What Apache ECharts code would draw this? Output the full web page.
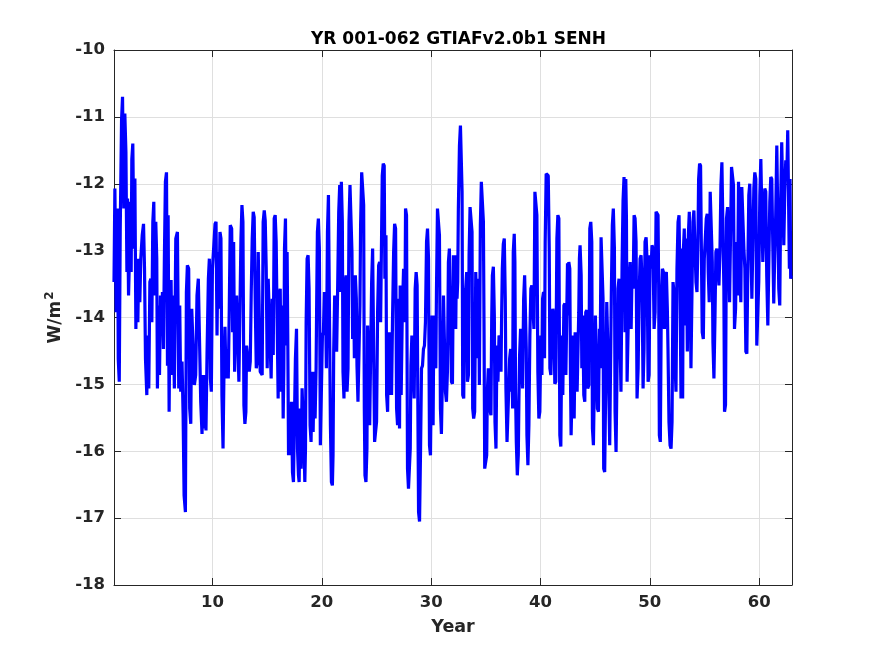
<!DOCTYPE html>
<html>
<head>
<meta charset="utf-8">
<script src="https://cdn.jsdelivr.net/npm/echarts@6/dist/echarts.min.js"></script>
<style>
  html, body { margin: 0; padding: 0; background: #fff; }
  #main { width: 875px; height: 656px; }
</style>
</head>
<body>
<div id="main"></div>
<script>
// SENH time series (turning points)
var years = [
  1.00,1.08,1.20,1.33,1.39,1.48,1.57,1.69,1.78,1.90,1.99,2.09,2.18,2.24,2.33,2.42,2.48,2.57,2.63,2.72,2.82,2.91,3.00,3.09,3.18,3.27,3.36,3.45,3.58,3.70,3.79,3.88,4.00,4.09,4.18,4.28,4.37,4.46,4.55,4.64,4.73,4.82,4.91,4.97,5.07,5.16,5.25,5.34,5.43,5.52,5.61,5.70,5.80,5.89,5.95,6.04,6.13,
  6.22,6.31,6.40,6.52,6.65,6.80,6.92,7.01,7.10,7.22,7.32,7.41,7.53,7.62,7.71,7.83,7.92,8.02,8.11,8.23,8.35,8.47,8.59,8.71,8.84,8.93,9.05,9.14,9.23,9.32,9.41,9.51,9.63,9.72,9.81,9.90,10.00,10.11,10.24,10.33,10.42,10.51,10.60,10.69,10.78,10.87,10.97,11.06,11.15,11.24,11.33,
  11.45,11.54,11.63,11.76,11.85,11.94,12.03,12.12,12.21,12.33,12.42,12.52,12.61,12.70,12.79,12.88,12.97,13.06,13.12,13.25,13.37,13.46,13.55,13.64,13.73,13.82,13.91,14.01,14.10,14.19,14.28,14.37,14.46,14.55,14.64,14.74,14.83,14.92,15.01,15.10,15.19,15.28,15.37,15.47,15.56,15.65,15.74,15.83,15.92,16.01,16.10,16.20,16.29,16.38,16.47,16.53,
  16.59,16.68,16.77,16.83,16.89,16.96,17.05,17.14,17.23,17.32,17.41,17.50,17.59,17.69,17.78,17.87,17.93,18.02,18.11,18.20,18.29,18.38,18.45,18.51,18.57,18.66,18.75,18.84,18.93,19.02,19.11,19.21,19.30,19.39,19.48,19.54,19.60,19.69,19.78,19.87,19.96,20.06,20.15,20.24,20.33,20.42,20.52,20.61,20.70,20.79,20.88,20.97,21.03,21.09,21.18,21.27,21.36,21.46,21.55,21.64,21.73,
  21.79,21.88,21.94,22.03,22.12,22.22,22.31,22.40,22.49,22.58,22.67,22.76,22.82,22.92,22.98,23.07,23.16,23.22,23.31,23.40,23.49,23.55,23.65,23.74,23.83,23.89,23.95,24.04,24.13,24.19,24.28,24.38,24.47,24.56,24.65,24.74,24.83,24.92,25.01,25.11,25.20,25.29,25.38,25.47,25.53,25.62,25.71,25.77,25.87,25.93,26.02,26.11,26.20,26.29,26.38,26.47,26.57,26.66,26.75,26.84,26.93,
  27.02,27.11,27.17,27.26,27.36,27.48,27.60,27.66,27.75,27.84,27.93,28.02,28.09,28.15,28.24,28.36,28.45,28.54,28.63,28.72,28.78,28.85,28.94,29.03,29.12,29.21,29.30,29.39,29.48,29.58,29.67,29.76,29.85,29.94,30.03,30.09,30.18,30.25,30.34,30.43,30.49,30.58,30.67,30.76,30.85,30.94,31.04,31.13,31.22,31.31,31.40,31.49,31.58,31.67,31.77,31.86,31.95,32.04,32.13,
  32.19,32.25,32.31,32.37,32.43,32.49,32.59,32.68,32.77,32.83,32.89,32.98,33.07,33.16,33.25,33.32,33.41,33.47,33.56,33.65,33.74,33.80,33.89,33.98,34.08,34.17,34.26,34.35,34.41,34.50,34.59,34.68,34.78,34.84,34.90,34.99,35.08,35.14,35.23,35.32,35.41,35.47,35.54,35.60,35.69,35.78,35.84,35.93,36.02,36.11,36.21,36.30,36.39,36.45,36.51,36.60,36.69,36.78,36.84,36.94,37.03,37.09,37.18,37.27,37.33,
  37.39,37.45,37.51,37.60,37.66,37.72,37.79,37.88,37.97,38.03,38.09,38.18,38.27,38.36,38.46,38.55,38.64,38.70,38.76,38.85,38.94,39.03,39.12,39.21,39.31,39.40,39.49,39.58,39.67,39.76,39.85,39.94,40.04,40.13,40.19,40.28,40.37,40.43,40.52,40.61,40.71,40.80,40.86,40.95,41.04,41.13,41.22,41.31,41.40,41.50,41.59,41.68,41.77,41.86,41.95,42.04,42.14,42.23,42.32,42.41,42.47,42.53,
  42.59,42.68,42.74,42.80,42.89,42.99,43.08,43.17,43.26,43.35,43.44,43.50,43.56,43.62,43.72,43.78,43.87,43.96,44.05,44.14,44.23,44.32,44.42,44.51,44.60,44.69,44.75,44.84,44.93,45.02,45.11,45.21,45.30,45.39,45.45,45.54,45.63,45.72,45.78,45.87,45.97,46.06,46.15,46.24,46.33,46.42,46.48,46.57,46.66,46.76,46.82,46.91,47.00,47.09,47.18,47.27,47.36,47.46,47.55,47.64,47.73,
  47.80,47.86,47.92,48.01,48.10,48.20,48.29,48.38,48.47,48.56,48.65,48.74,48.83,48.93,49.02,49.11,49.20,49.29,49.38,49.47,49.56,49.66,49.75,49.84,49.93,50.02,50.11,50.20,50.29,50.39,50.48,50.57,50.66,50.75,50.81,50.87,50.96,51.05,51.15,51.24,51.33,51.42,51.51,51.60,51.66,51.75,51.85,51.94,52.03,52.12,52.21,52.30,52.39,52.48,52.58,52.67,52.76,52.85,52.94,
  53.00,53.06,53.15,53.24,53.33,53.43,53.52,53.61,53.70,53.76,53.85,53.94,54.03,54.13,54.22,54.31,54.40,54.46,54.55,54.64,54.73,54.79,54.89,54.98,55.07,55.16,55.25,55.34,55.43,55.52,55.62,55.71,55.77,55.86,55.95,56.04,56.13,56.22,56.32,56.41,56.50,56.59,56.68,56.77,56.83,56.92,57.01,57.11,57.20,57.29,57.38,57.47,57.56,57.65,57.74,57.84,57.93,58.02,58.11,
  58.20,58.26,58.32,58.41,58.50,58.60,58.69,58.78,58.87,58.96,59.05,59.14,59.23,59.33,59.42,59.51,59.60,59.69,59.78,59.87,59.96,60.06,60.15,60.24,60.33,60.42,60.51,60.60,60.69,60.79,60.88,60.97,61.06,61.15,61.24,61.33,61.42,61.51,61.61,61.70,61.79,61.88,61.97,62.06,62.15,62.25,62.34,62.43,62.52,62.61,62.70,62.76,62.82,62.88,62.94
];

var senh = [
  -13.47,-12.07,-13.92,-12.37,-14.62,-14.96,-12.67,-11.05,-10.70,-12.37,-10.95,-11.53,-13.32,-12.22,-13.67,-13.07,-12.27,-13.32,-11.63,-11.40,-12.97,-11.92,-14.17,-13.12,-14.07,-13.12,-13.77,-13.12,-12.77,-12.60,-13.27,-14.62,-15.16,-14.27,-15.06,-13.47,-13.42,-14.07,-12.57,-12.27,-13.67,-12.57,-13.12,-15.06,-13.82,-14.86,-13.67,-14.22,-13.62,-14.47,-13.07,-11.97,-11.83,-14.72,-12.47,-15.41,-13.57,
  -13.44,-14.86,-13.67,-15.06,-12.82,-12.72,-15.06,-13.82,-15.11,-14.66,-15.46,-16.66,-16.91,-13.62,-13.22,-13.27,-15.36,-15.59,-13.87,-13.87,-15.01,-14.86,-13.67,-13.42,-13.42,-15.26,-15.74,-14.86,-15.66,-14.86,-15.69,-14.51,-13.42,-13.12,-14.91,-15.11,-13.27,-12.97,-12.60,-12.57,-14.27,-13.02,-13.87,-12.72,-12.82,-15.16,-15.96,-14.76,-14.14,-14.91,-14.47,
  -14.91,-13.87,-12.62,-12.67,-14.22,-12.87,-14.81,-13.97,-13.67,-13.67,-14.96,-14.96,-12.82,-12.32,-12.57,-15.31,-15.59,-15.41,-14.42,-14.42,-14.81,-14.66,-13.62,-12.82,-12.42,-12.50,-13.72,-14.76,-14.66,-13.02,-13.02,-14.81,-14.81,-14.86,-12.57,-12.40,-12.55,-13.27,-14.76,-13.42,-13.42,-13.42,-14.91,-13.72,-14.56,-12.52,-12.47,-12.87,-14.07,-15.21,-13.67,-13.57,-15.11,-13.82,-15.51,-14.76,
  -12.97,-12.52,-14.42,-13.02,-14.27,-16.06,-15.41,-16.06,-15.26,-16.31,-16.46,-15.51,-14.61,-14.17,-15.96,-16.36,-16.46,-15.36,-16.26,-15.06,-15.06,-15.96,-16.46,-15.96,-14.07,-13.12,-13.07,-13.57,-15.61,-15.86,-14.81,-15.71,-14.81,-15.51,-14.76,-13.67,-12.72,-12.52,-12.97,-15.91,-15.91,-14.27,-14.22,-13.62,-13.67,-14.76,-12.72,-12.17,-12.17,-15.61,-16.46,-16.51,-16.06,-14.51,-13.67,-13.67,-14.51,-13.47,-12.42,-12.02,-13.62,
  -11.97,-12.57,-14.81,-15.21,-13.52,-13.37,-15.11,-14.76,-12.57,-12.02,-12.00,-13.02,-14.32,-13.67,-14.61,-13.37,-13.72,-14.72,-15.26,-15.26,-13.82,-12.62,-11.83,-11.83,-12.32,-15.36,-16.36,-16.46,-15.96,-14.12,-14.66,-15.61,-15.61,-13.47,-12.97,-12.97,-15.86,-15.86,-15.56,-13.87,-13.22,-13.17,-14.07,-14.07,-11.88,-11.70,-11.73,-13.42,-12.77,-15.16,-15.41,-14.22,-15.16,-14.22,-15.16,-14.02,-13.02,-12.60,-12.67,-15.36,-15.61,
  -13.72,-15.66,-13.52,-15.16,-13.97,-13.27,-14.07,-12.37,-12.47,-16.26,-16.56,-16.56,-15.96,-14.72,-14.27,-14.27,-15.21,-13.57,-13.32,-13.52,-15.16,-16.91,-17.05,-16.01,-14.76,-14.72,-14.47,-14.42,-14.07,-12.87,-12.67,-13.12,-15.91,-16.06,-14.66,-13.97,-15.61,-13.97,-13.97,-14.76,-13.57,-12.37,-12.35,-12.77,-15.36,-15.74,-14.81,-13.67,-13.69,-15.11,-15.26,-14.81,-13.17,-12.97,-12.97,-14.96,-14.99,-13.07,-13.47,
  -13.07,-14.17,-13.17,-13.72,-13.47,-12.37,-11.43,-11.13,-11.13,-12.12,-15.16,-15.21,-13.72,-13.57,-13.32,-14.96,-14.86,-13.07,-12.35,-12.35,-12.72,-15.36,-15.51,-15.41,-13.32,-13.32,-14.61,-13.42,-15.01,-12.62,-11.97,-11.97,-12.57,-14.22,-16.26,-16.26,-16.06,-15.11,-14.76,-14.76,-15.41,-15.46,-14.02,-13.37,-13.24,-13.97,-15.56,-15.96,-14.42,-14.96,-14.27,-14.32,-14.81,-13.92,-13.27,-12.90,-12.82,-13.72,-15.06,-15.86,-15.86,-15.11,-14.61,-14.47,-15.11,
  -14.47,-15.36,-13.02,-12.75,-13.17,-15.11,-15.86,-16.36,-16.06,-15.21,-14.56,-14.17,-14.17,-15.06,-13.72,-13.37,-13.37,-14.47,-15.76,-16.21,-15.61,-14.27,-13.57,-13.52,-13.52,-14.17,-12.12,-12.10,-12.47,-14.81,-15.51,-15.41,-14.27,-14.86,-13.72,-13.62,-14.61,-12.87,-11.85,-11.83,-11.88,-12.97,-14.76,-14.86,-14.17,-13.87,-13.97,-14.99,-14.96,-12.82,-12.47,-12.52,-15.76,-15.93,-14.27,-15.16,-13.82,-13.79,-14.86,-14.86,-13.19,-13.97,
  -13.17,-13.27,-14.86,-15.76,-15.76,-14.27,-15.51,-14.22,-14.22,-15.11,-15.11,-13.92,-13.12,-12.92,-13.37,-14.76,-13.97,-15.16,-15.26,-13.92,-13.89,-15.06,-15.01,-12.67,-12.57,-12.87,-15.66,-15.91,-15.91,-13.97,-13.97,-15.36,-15.41,-14.17,-14.76,-12.80,-12.80,-13.72,-16.26,-16.31,-14.96,-13.77,-13.77,-15.01,-15.91,-15.91,-13.62,-12.62,-12.37,-12.97,-15.41,-16.01,-16.01,-13.57,-13.42,-13.42,-15.11,-13.22,-12.25,-11.90,-14.22,
  -11.93,-12.52,-14.96,-14.22,-13.47,-13.17,-14.17,-13.27,-13.57,-12.47,-12.52,-12.87,-15.21,-14.76,-13.67,-13.12,-13.07,-13.47,-15.06,-14.47,-12.87,-12.80,-13.17,-14.96,-14.86,-13.07,-13.27,-12.92,-12.97,-14.17,-13.92,-12.42,-12.40,-12.47,-13.57,-15.76,-15.86,-13.77,-13.27,-13.32,-14.17,-13.37,-13.32,-13.87,-14.47,-15.56,-15.91,-15.96,-15.56,-13.47,-13.62,-14.66,-15.11,-13.27,-12.57,-12.47,-13.52,-15.21,-12.97,
  -15.21,-13.02,-12.67,-14.12,-12.82,-14.51,-12.77,-12.42,-12.42,-14.76,-14.76,-12.57,-12.40,-12.42,-13.47,-13.62,-12.82,-11.93,-11.70,-11.73,-13.27,-14.22,-14.32,-13.12,-13.12,-12.52,-12.45,-13.32,-13.77,-12.12,-12.10,-13.17,-14.37,-14.91,-14.07,-13.02,-12.97,-12.99,-13.52,-13.02,-12.02,-11.68,-11.68,-13.57,-15.41,-15.31,-12.52,-12.35,-12.37,-13.77,-13.77,-11.75,-11.75,-12.02,-14.17,-13.87,-12.87,-13.67,-11.97,
  -11.97,-13.47,-13.77,-12.05,-12.07,-12.97,-13.27,-14.51,-14.54,-13.27,-12.17,-12.00,-12.02,-13.72,-13.74,-12.07,-11.83,-11.93,-14.42,-14.42,-13.47,-12.17,-11.63,-11.63,-13.17,-13.19,-12.07,-12.12,-13.37,-14.12,-14.12,-12.27,-11.90,-11.93,-12.87,-13.79,-13.07,-12.47,-11.43,-11.45,-13.57,-13.82,-12.22,-11.38,-11.40,-12.92,-12.12,-11.65,-11.93,-11.20,-11.22,-13.27,-11.93,-13.42,-13.37
];

var xTicks = [10, 20, 30, 40, 50, 60];
var yTicks = [-18, -17, -16, -15, -14, -13, -12, -11, -10];
var chartTitle = 'YR 001-062 GTIAFv2.0b1 SENH';

var points = years.map(function (y, i) { return [y, senh[i]]; });

var axisColor = '#262626';
var gridColor = '#dfdfdf';
var font = 'DejaVu Sans';

var chart = echarts.init(document.getElementById('main'), null, { renderer: 'canvas' });

var option = {
  animation: false,
  backgroundColor: '#ffffff',
  title: {
    text: chartTitle,
    left: 306,
    top: 26,
    textStyle: { fontFamily: font, fontSize: 17, fontWeight: 'bold', color: '#000' }
  },
  grid: { left: 114, right: 83, top: 50, bottom: 71, containLabel: false },
  xAxis: [{
    type: 'value',
    min: 1,
    max: 63,
    name: 'Year',
    nameLocation: 'middle',
    nameGap: 33,
    nameTextStyle: { fontFamily: font, fontSize: 17.5, fontWeight: 'bold', color: axisColor },
    axisLine: { show: true, lineStyle: { color: axisColor, width: 1 } },
    axisTick: { show: true, inside: true, length: 7, lineStyle: { color: axisColor } },
    axisLabel: {
      margin: 9,
      fontFamily: font, fontSize: 16.5, fontWeight: 'bold', color: axisColor,
      showMinLabel: false, showMaxLabel: false,
      formatter: function (v) { return xTicks.indexOf(v) >= 0 ? String(v) : ''; }
    },
    splitLine: { show: true, lineStyle: { color: gridColor, width: 1 } }
  }, {
    type: 'value',
    position: 'top',
    min: 1,
    max: 63,
    axisLine: { show: true, onZero: false, lineStyle: { color: axisColor, width: 1 } },
    axisTick: { show: true, inside: true, length: 7, lineStyle: { color: axisColor } },
    axisLabel: { show: false },
    splitLine: { show: false }
  }],
  yAxis: [{
    type: 'value',
    min: yTicks[0],
    max: yTicks[yTicks.length - 1],
    interval: 1,
    name: '{a|W/m}{b|2}',
    nameLocation: 'middle',
    nameGap: 40,
    nameRotate: 90,
    nameTextStyle: {
      rich: {
        a: { fontFamily: font, fontSize: 17, fontWeight: 'bold', color: axisColor, verticalAlign: 'bottom', lineHeight: 20 },
        b: { fontFamily: font, fontSize: 12, fontWeight: 'bold', color: axisColor, verticalAlign: 'top', lineHeight: 20, padding: [0, 0, 8, 1] }
      }
    },
    axisLine: { show: true, onZero: false, lineStyle: { color: axisColor, width: 1 } },
    axisTick: { show: true, inside: true, length: 7, lineStyle: { color: axisColor } },
    axisLabel: { margin: 9, fontFamily: font, fontSize: 16.5, fontWeight: 'bold', color: axisColor },
    splitLine: { show: true, lineStyle: { color: gridColor, width: 1 } }
  }, {
    type: 'value',
    position: 'right',
    min: yTicks[0],
    max: yTicks[yTicks.length - 1],
    interval: 1,
    axisLine: { show: true, onZero: false, lineStyle: { color: axisColor, width: 1 } },
    axisTick: { show: true, inside: true, length: 7, lineStyle: { color: axisColor } },
    axisLabel: { show: false },
    splitLine: { show: false }
  }],
  series: [{
    type: 'line',
    xAxisIndex: 0,
    yAxisIndex: 0,
    data: points,
    showSymbol: false,
    symbol: 'none',
    lineStyle: { color: '#0000ff', width: 3.2, join: 'bevel' },
    z: 3
  }]
};

chart.setOption(option);
</script>
</body>
</html>
